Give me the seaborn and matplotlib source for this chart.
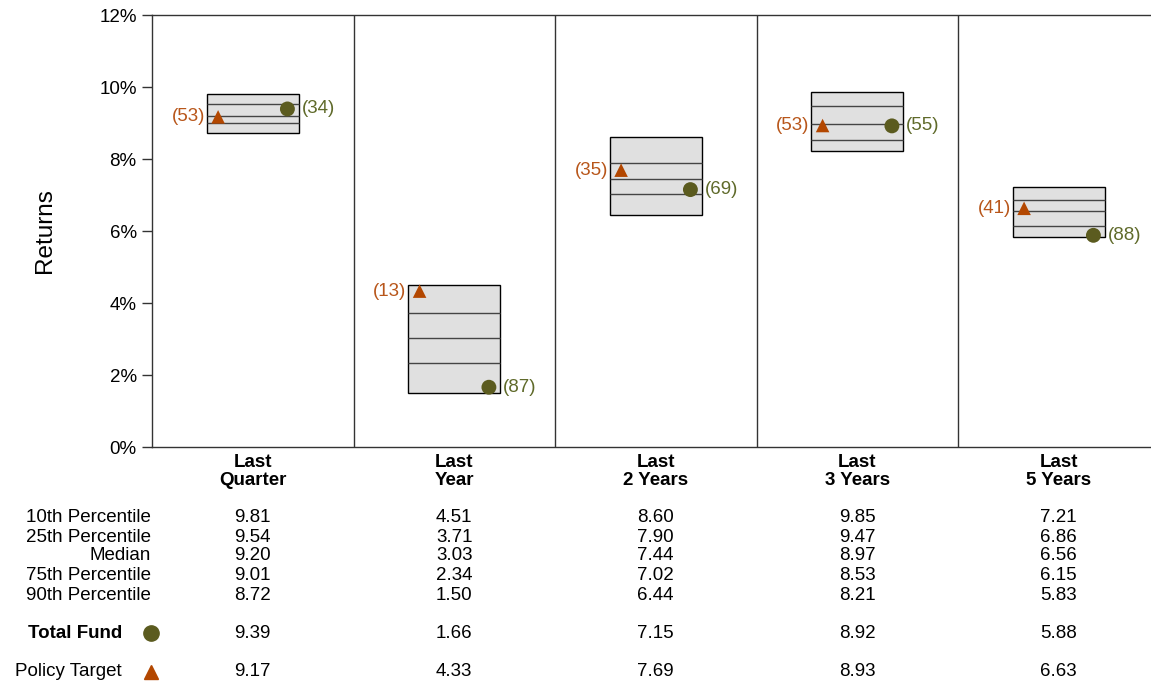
import numpy as np
import pandas as pd
import seaborn as sns
import matplotlib
matplotlib.use('Agg')
import matplotlib.pyplot as plt

# data
periods = ['Last\nQuarter', 'Last\nYear', 'Last\n2 Years', 'Last\n3 Years', 'Last\n5 Years']
p10 = [9.81, 4.51, 8.60, 9.85, 7.21]
p25 = [9.54, 3.71, 7.90, 9.47, 6.86]
median = [9.20, 3.03, 7.44, 8.97, 6.56]
p75 = [9.01, 2.34, 7.02, 8.53, 6.15]
p90 = [8.72, 1.50, 6.44, 8.21, 5.83]
fund = [9.39, 1.66, 7.15, 8.92, 5.88]
fund_rank = [34, 87, 69, 55, 88]
policy = [9.17, 4.33, 7.69, 8.93, 6.63]
policy_rank = [53, 13, 35, 53, 41]
row_names = ['10th Percentile', '25th Percentile', 'Median', '75th Percentile', '90th Percentile']

fund_color = '#5b5b1f'
policy_color = '#b34700'
fund_text = '#5f6a2a'
policy_text = '#b8561a'

sns.set_style('white')
plt.rcParams['font.family'] = ['Liberation Sans', 'DejaVu Sans']
plt.rcParams['text.color'] = 'black'
plt.rcParams['axes.labelcolor'] = 'black'
plt.rcParams['xtick.color'] = 'black'
plt.rcParams['ytick.color'] = 'black'
fs = 13.5

fig = plt.figure(figsize=(11.51, 6.84), dpi=100)
ax = fig.add_axes([152 / 1151, 1 - 447 / 684, 1 - 152 / 1151, (447 - 15) / 684])

x = np.arange(len(periods))
bw = 0.457
p10a, p90a = np.array(p10), np.array(p90)
# floating boxes from 90th to 10th percentile
ax.bar(x, p10a - p90a, bottom=p90a, width=bw, color='#e0e0e0',
       edgecolor='black', linewidth=1.0, zorder=2)
for vals in [p25, median, p75]:
    ax.hlines(vals, x - bw / 2, x + bw / 2, color='#444444', linewidth=1.0, zorder=3)

# markers
off = 0.172
df_f = pd.DataFrame({'x': x + off, 'y': fund})
df_p = pd.DataFrame({'x': x - off, 'y': policy})
sns.scatterplot(data=df_f, x='x', y='y', ax=ax, marker='o', s=115, color=fund_color,
                edgecolor='none', zorder=5, legend=False)
sns.scatterplot(data=df_p, x='x', y='y', ax=ax, marker='^', s=95, color=policy_color,
                edgecolor='none', zorder=5, legend=False)
for i in range(len(periods)):
    ax.text(x[i] + off + 0.07, fund[i], '({})'.format(fund_rank[i]), color=fund_text,
            fontsize=fs, va='center', ha='left', zorder=6)
    ax.text(x[i] - off - 0.065, policy[i], '({})'.format(policy_rank[i]), color=policy_text,
            fontsize=fs, va='center', ha='right', zorder=6)

# panel dividers
for d in x[:-1] + 0.5:
    ax.axvline(d, color='#333333', linewidth=1.0, zorder=1)

ax.set_xlim(-0.5, -0.5 + (1151 - 152) / 201.5)
ax.set_ylim(0, 12)
ax.set_yticks(range(0, 13, 2))
ax.set_yticklabels(['{}%'.format(v) for v in range(0, 13, 2)], fontsize=fs)
ax.tick_params(axis='y', which='major', left=True, length=7, width=1, color='#333333', pad=4)
ax.set_xticks(x)
ax.set_xticklabels(periods, fontsize=fs, fontweight='bold', linespacing=1.05)
ax.tick_params(axis='x', length=0, pad=5)
ax.set_xlabel('')
ax.set_ylabel('Returns', fontsize=17.5, labelpad=31)
for s in ['top', 'left', 'bottom']:
    ax.spines[s].set_color('#333333')
    ax.spines[s].set_linewidth(1.0)
ax.spines['right'].set_visible(False)

# table below the chart
col_x = [(152 + 201.5 * (i + 0.5)) / 1151 for i in range(len(periods))]
rows = [p10, p25, median, p75, p90]
row_y = [518, 537, 556, 576, 595]
for r, name in enumerate(row_names):
    yy = 1 - row_y[r] / 684
    fig.text(151 / 1151, yy, name, ha='right', va='center', fontsize=fs)
    for i in range(len(periods)):
        fig.text(col_x[i], yy, '{:.2f}'.format(rows[r][i]), ha='center', va='center', fontsize=fs)

yy = 1 - 633 / 684
fig.text(122 / 1151, yy, 'Total Fund', ha='right', va='center', fontsize=fs, fontweight='bold')
fig.lines.append(plt.Line2D([151 / 1151], [yy], marker='o', markersize=11, color=fund_color,
                            transform=fig.transFigure, linestyle='none'))
for i in range(len(periods)):
    fig.text(col_x[i], yy, '{:.2f}'.format(fund[i]), ha='center', va='center', fontsize=fs)

yy = 1 - 672 / 684
fig.text(122 / 1151, yy, 'Policy Target', ha='right', va='center', fontsize=fs)
fig.lines.append(plt.Line2D([151 / 1151], [yy], marker='^', markersize=9.5, color=policy_color,
                            transform=fig.transFigure, linestyle='none'))
for i in range(len(periods)):
    fig.text(col_x[i], yy, '{:.2f}'.format(policy[i]), ha='center', va='center', fontsize=fs)

fig.savefig('out.png', dpi=100)
